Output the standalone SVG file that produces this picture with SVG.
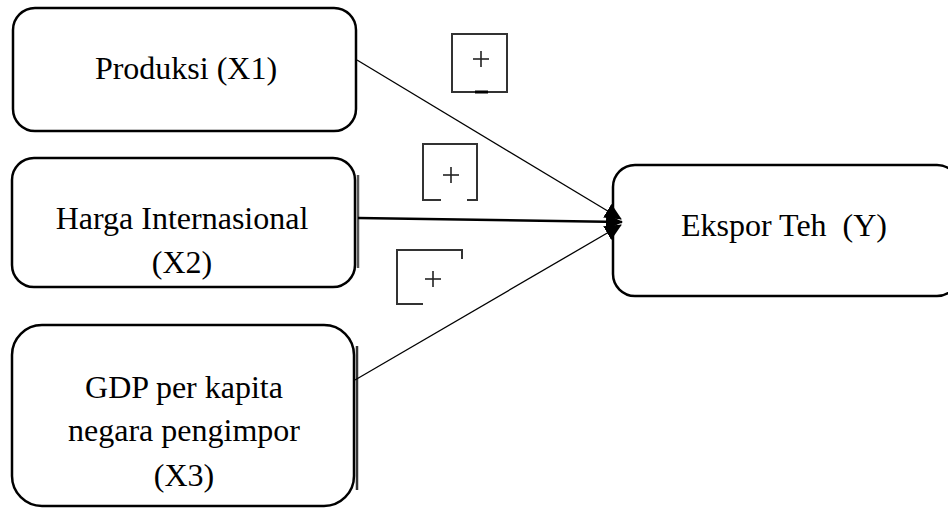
<svg xmlns="http://www.w3.org/2000/svg" width="948" height="508" viewBox="0 0 948 508">
<defs>
<style>
.box{fill:#fff;stroke:#000;stroke-width:2.5}
.t{font-family:"Liberation Serif","Times New Roman",serif;font-size:32px;fill:#000;text-anchor:middle}
.c{stroke:#000;fill:none}
.sq{stroke:#333;stroke-width:2;fill:none}
.pl{stroke:#222;stroke-width:1.6}
</style>
<marker id="ah" viewBox="0 0 17 16" refX="16" refY="8" markerWidth="17" markerHeight="16" markerUnits="userSpaceOnUse" orient="auto">
<path d="M0,0 L17,8 L0,16 Z" fill="#000"/>
</marker>
</defs>
<rect width="948" height="508" fill="#fff"/>
<g id="x1">
<rect class="box" x="13" y="8" width="343" height="123" rx="22"/>
<text class="t" x="186" y="79">Produksi (X1)</text>
</g>
<g id="x2">
<rect class="box" x="12" y="158" width="343" height="129" rx="22"/>
<line x1="358" y1="175" x2="358" y2="268" stroke="#555" stroke-width="2.5"/>
<text class="t" x="182" y="229">Harga Internasional</text>
<text class="t" x="182" y="273">(X2)</text>
</g>
<g id="x3">
<rect class="box" x="12" y="325" width="342" height="181" rx="30"/>
<line x1="357" y1="346" x2="357" y2="490" stroke="#333" stroke-width="2.5"/>
<text class="t" x="184" y="398">GDP per kapita</text>
<text class="t" x="184" y="441">negara pengimpor</text>
<text class="t" x="184" y="486">(X3)</text>
</g>
<g id="y">
<rect class="box" x="613" y="165" width="346" height="131" rx="22"/>
<text class="t" x="784" y="236" xml:space="preserve">Ekspor Teh  (Y)</text>
</g>
<g id="connectors">
<line class="c" x1="357" y1="60" x2="621" y2="219" stroke-width="1.3" marker-end="url(#ah)"/>
<line class="c" x1="358" y1="218" x2="622" y2="222" stroke-width="2.5" marker-end="url(#ah)"/>
<line class="c" x1="355" y1="380" x2="621" y2="225" stroke-width="1.3" marker-end="url(#ah)"/>
</g>
<g id="labels">
<path class="sq" d="M452,34 H507 V92 H452 Z"/>
<line x1="475" y1="92" x2="488" y2="92" stroke="#000" stroke-width="3"/>
<line class="pl" x1="473" y1="59" x2="489" y2="59"/>
<line class="pl" x1="481" y1="51" x2="481" y2="67"/>
<path class="sq" d="M441,200 H423 V144 H477 V200 H467"/>
<line class="pl" x1="443" y1="175" x2="459" y2="175"/>
<line class="pl" x1="451" y1="167" x2="451" y2="183"/>
<path class="sq" d="M423,304 H397 V250 H462 V259"/>
<line class="pl" x1="425" y1="279" x2="441" y2="279"/>
<line class="pl" x1="433" y1="271" x2="433" y2="287"/>
</g>
</svg>
